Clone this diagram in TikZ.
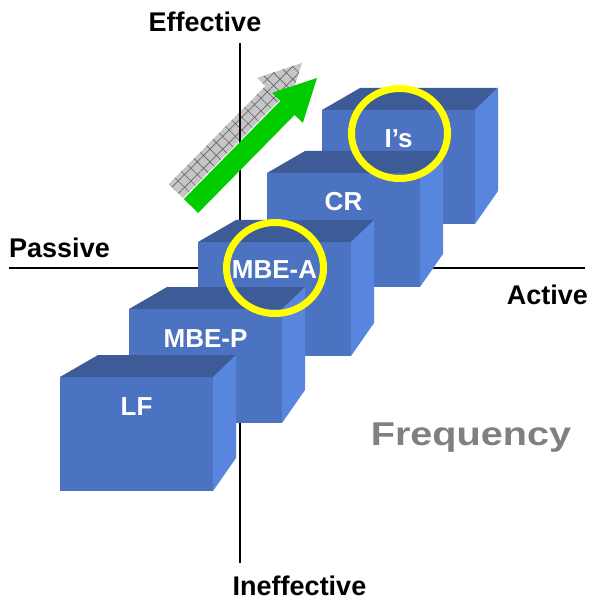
\documentclass[tikz,border=0pt]{standalone}
\usepackage{fontspec}
\setmainfont{Liberation Sans}
\usetikzlibrary{patterns.meta}
\definecolor{cubefront}{RGB}{76,115,193}
\definecolor{cubetop}{RGB}{61,91,150}
\definecolor{cuberight}{RGB}{88,134,222}
\definecolor{arrowgreen}{RGB}{0,204,0}
\definecolor{ringyellow}{RGB}{255,255,0}
\definecolor{freqgray}{RGB}{128,128,128}
\newcommand{\drawcube}[2]{%
  \fill[cubefront] (#1,#2) rectangle (#1+153,#2+114);
  \fill[cubetop] (#1,#2) -- (#1+38,#2-22) -- (#1+176,#2-22) -- (#1+153,#2) -- cycle;
  \fill[cuberight] (#1+153,#2) -- (#1+176,#2-22) -- (#1+176,#2+81) -- (#1+153,#2+114) -- cycle;
}
\newcommand{\arrowshape}{(183.9,199) -- (280.4,100.9) -- (272.2,92.8) -- (317,78) -- (302.8,123) -- (294.6,114.9) -- (198.1,213) -- cycle}
\tikzset{
  axisline/.style={line width=1.5pt, black},
  axislabel/.style={font=\fontsize{27}{30}\selectfont\bfseries, inner sep=0pt, text=black},
  cubelabel/.style={font=\fontsize{26}{30}\selectfont\bfseries, inner sep=0pt, text=white, anchor=base},
  ring/.style={draw=ringyellow, line width=7pt},
}
\begin{document}
\begin{tikzpicture}[x=1pt,y=-1pt]
\useasboundingbox (0,0) rectangle (589,601);
% axes
\coordinate (vtop) at (240,43);
\coordinate (vbot) at (240,563);
\coordinate (hleft) at (9,268);
\coordinate (hright) at (585,268);
% shadow arrow
\fill[gray!45, shift={(-15,-15)}] \arrowshape;
\fill[pattern={Hatch[angle=45,distance=9pt,line width=0.6pt]}, pattern color=gray!80!black, shift={(-15,-15)}] \arrowshape;
\draw[axisline] (vtop) -- (vbot);
\draw[axisline] (hleft) -- (hright);
% green arrow
\fill[arrowgreen] \arrowshape;
% cubes back to front
\drawcube{322}{110}
\drawcube{267}{173}
\drawcube{198}{242}
\drawcube{129}{309}
\drawcube{60}{377}
% rings
\draw[ring] (399.5,133.5) ellipse [x radius=48, y radius=45];
\draw[ring] (275,268) ellipse [x radius=48.5, y radius=45.5];
% cube labels
\node[cubelabel] (is) at (398.5,148) {I’s};
\node[cubelabel] (cr) at (343.5,211) {CR};
\node[cubelabel] (mbea) at (274.5,278) {MBE-A};
\node[cubelabel] (mbep) at (205.5,347) {MBE-P};
\node[cubelabel] (lf) at (136.5,415) {LF};
% axis labels
\node[axislabel, anchor=base] (eff) at (205,32) {Effective};
\node[axislabel, anchor=base west] (pas) at (9,258) {Passive};
\node[axislabel, anchor=base east] (act) at (588,304) {Active};
\node[axislabel, anchor=base] (ineff) at (299.5,595) {Ineffective};
\node[anchor=base, inner sep=0pt, text=freqgray, font=\fontsize{33}{36}\selectfont\bfseries] (freq) at (471,445) {\scalebox{1.2}[1]{Frequency}};
\end{tikzpicture}
\end{document}
